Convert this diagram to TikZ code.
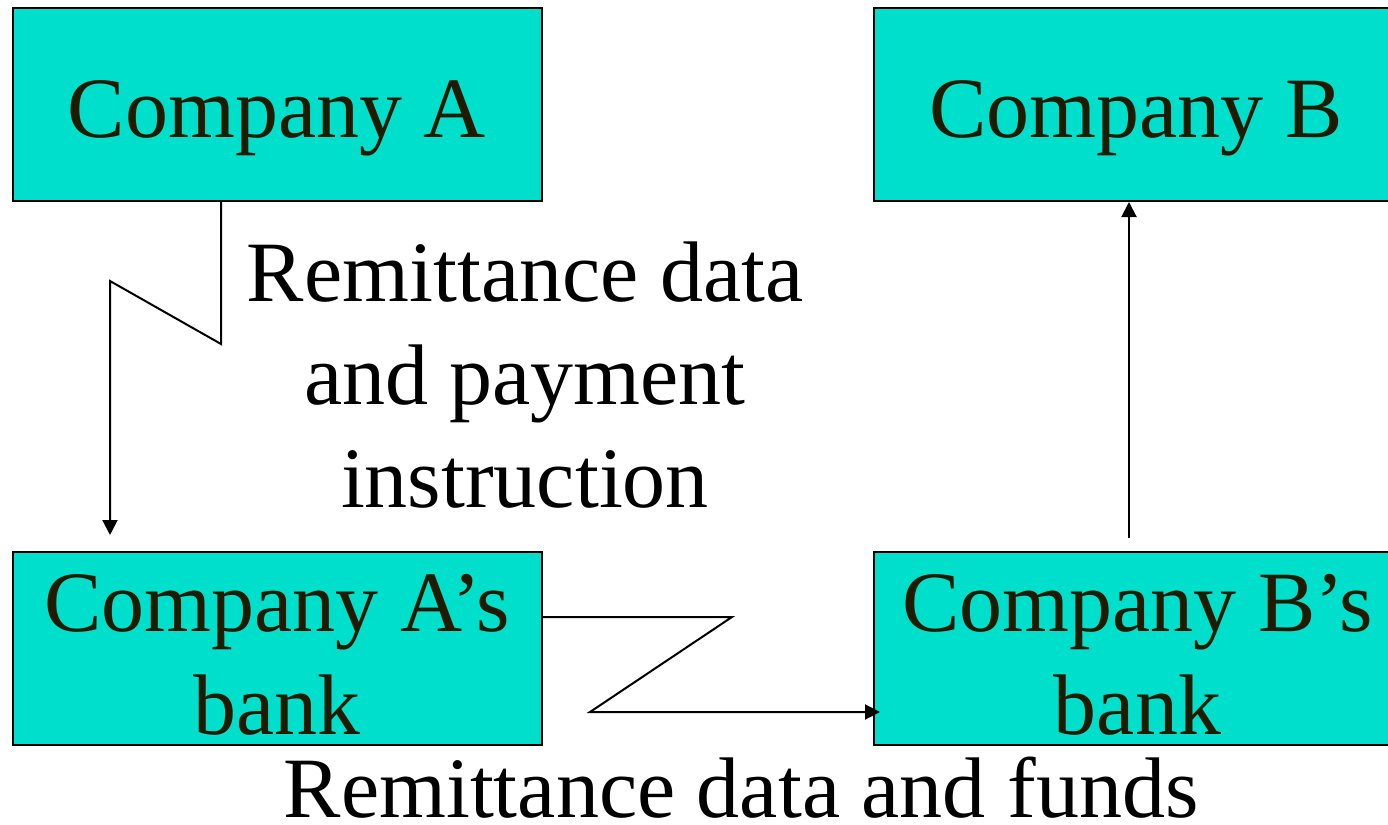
\documentclass[tikz,border=0pt]{standalone}
\usepackage{fontspec}
\setmainfont{Liberation Serif}
\usetikzlibrary{arrows.meta}
\definecolor{boxfill}{RGB}{0,223,204}
\definecolor{boxtext}{RGB}{31,26,0}
\tikzset{
  box/.style={draw=black, line width=1pt, fill=boxfill, minimum width=264.5pt, minimum height=96.5pt, inner sep=0pt},
  boxtxt/.style={text=boxtext, font=\fontsize{43pt}{51.5pt}\selectfont, align=center, anchor=base, inner sep=0pt},
  lbl/.style={text=black, font=\fontsize{43pt}{51.5pt}\selectfont, align=center, anchor=base, inner sep=0pt},
  conn/.style={draw=black, line width=1pt, -{Triangle[length=7.5pt,width=7.5pt]}}
}
\begin{document}
\begin{tikzpicture}[x=0.5pt,y=-0.5pt]
\useasboundingbox (0,0) rectangle (1388,825);
\clip (0,0) rectangle (1388,825);
% boxes
\node[box] (ca)  at (277.5,104.5) {};
\node[box] (cb)  at (1138.5,104.5) {};
\node[box] (cab) at (277.5,648.5) {};
\node[box] (cbb) at (1138.5,648.5) {};
% box texts (base anchor = baseline of the last line)
\node[boxtxt] (tca)  at (277,137) {Company A};
\node[boxtxt] (tcb)  at (1136,137) {Company B};
\node[boxtxt] (tcab) at (277,734) {Company A’s\\bank};
\node[boxtxt] (tcbb) at (1137.5,734) {Company B’s\\bank};
% labels
\node[lbl] (l1) at (525,507) {Remittance data\\and payment\\instruction};
\node[lbl] (l2) at (741,817) {Remittance data and funds};
% connector coordinates
\coordinate (k1) at (221,344);
\coordinate (k2) at (110,281);
\coordinate (e1) at (110,535);
\coordinate (k3) at (732,617);
\coordinate (k4) at (590,712);
\coordinate (e2) at (880,712);
\coordinate (s3) at (1129,538);
% connectors
\draw[conn] (ca.south -| k1) -- (k1) -- (k2) -- (e1);
\draw[conn] (cab.east |- k3) -- (k3) -- (k4) -- (e2);
\draw[conn] (s3) -- (cb.south -| s3);
\end{tikzpicture}
\end{document}
